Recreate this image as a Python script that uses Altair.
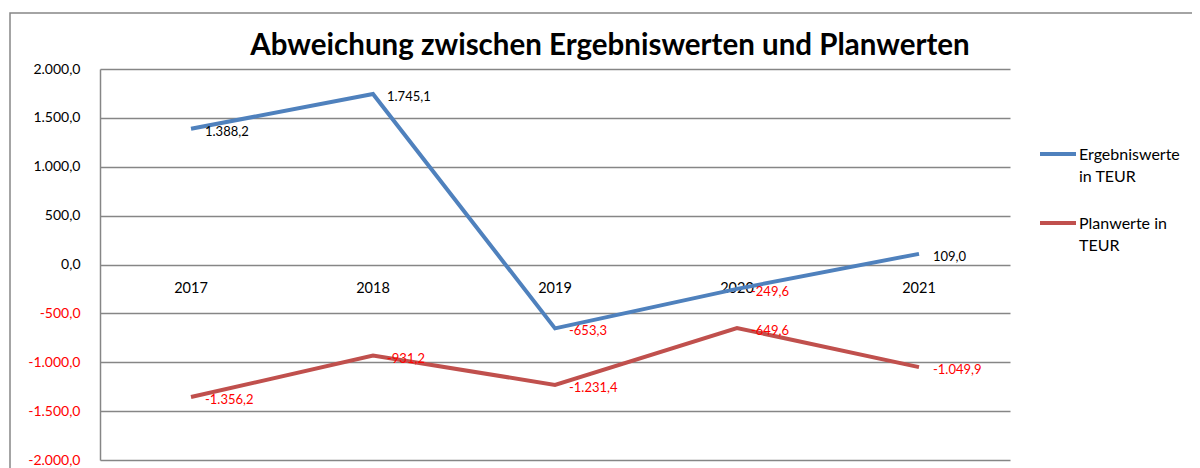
import altair as alt
import pandas as pd

years = ["2017", "2018", "2019", "2020", "2021"]
ergebnis = [1388.2, 1745.1, -653.3, -249.6, 109.0]
plan = [-1356.2, -931.2, -1231.4, -649.6, -1049.9]
series_names = ["Ergebniswerte in TEUR", "Planwerte in TEUR"]
legend_texts = ["Ergebniswerte|in TEUR", "Planwerte in|TEUR"]
series_colors = ["#4f81bd", "#c0504d"]
y_ticks = [-2000, -1500, -1000, -500, 0, 500, 1000, 1500, 2000]
title_text = "Abweichung zwischen Ergebniswerten und Planwerten"

rows = []
for i, y in enumerate(years):
    rows.append({"year": y, "series": series_names[0], "value": ergebnis[i]})
    rows.append({"year": y, "series": series_names[1], "value": plan[i]})
df = pd.DataFrame(rows)
cat_df = pd.DataFrame({"year": years, "zero": [0] * len(years)})
leg_df = pd.DataFrame({"series": series_names, "label": legend_texts,
                       "idx": list(range(len(series_names)))})

FONT = "Lato"

x_enc = alt.X("year:N", sort=years,
              scale=alt.Scale(paddingInner=0, paddingOuter=0, align=0.5),
              axis=None)
y_scale = alt.Scale(domain=[-2000, 2000], nice=False, zero=False)
y_axis = alt.Axis(values=y_ticks, format=",.1f", grid=True,
                  gridColor="#868686", gridWidth=1.5,
                  domain=True, domainColor="#868686", domainWidth=1.5,
                  ticks=False, labelPadding=20, labelFont=FONT,
                  labelFontSize=14,
                  labelColor={"condition": {"test": "datum.value < 0", "value": "#ff0000"},
                              "value": "#000000"})
color_scale = alt.Scale(domain=series_names, range=series_colors)

base = alt.Chart(df)

lines = base.mark_line(strokeWidth=4).encode(
    x=x_enc,
    y=alt.Y("value:Q", scale=y_scale, title=None, axis=y_axis),
    color=alt.Color("series:N", scale=color_scale, legend=None),
)

labels = base.mark_text(align="left", baseline="middle", dx=14, dy=3,
                        font=FONT, fontSize=13).encode(
    x=x_enc,
    y=alt.Y("value:Q", scale=y_scale, title=None, axis=y_axis),
    text=alt.Text("value:Q", format=",.1f"),
    color=alt.condition("datum.value < 0", alt.value("#ff0000"), alt.value("#000000")),
)

cats = alt.Chart(cat_df).mark_text(baseline="middle", dy=24, font=FONT,
                                   fontSize=14.5, color="#000000").encode(
    x=x_enc,
    y=alt.Y("zero:Q", scale=y_scale, title=None, axis=y_axis),
    text="year:N",
)

frame_df = pd.DataFrame({"t": [title_text]})
frame = alt.Chart(frame_df).mark_rect(fill="transparent", stroke="#868686",
                                      strokeWidth=1.5).encode(
    x=alt.value(-90), x2=alt.value(1110), y=alt.value(-56), y2=alt.value(420))
title = alt.Chart(frame_df).mark_text(font=FONT, fontSize=29.5, fontWeight="bold",
                                      align="center", baseline="alphabetic",
                                      color="#000000").encode(
    x=alt.value(510), y=alt.value(-14), text="t:N")

main = alt.layer(frame, cats, lines, labels, title)

leg_y = alt.Y("idx:Q", scale=alt.Scale(domain=[0, 1], range=[85, 154]), axis=None)
leg_rule = alt.Chart(leg_df).mark_rule(strokeWidth=4).encode(
    x=alt.value(940), x2=alt.value(976), y=leg_y,
    color=alt.Color("series:N", scale=color_scale, legend=None))
leg_text = alt.Chart(leg_df).mark_text(align="left", baseline="alphabetic", dy=6,
                                       lineBreak="|", lineHeight=22, font=FONT,
                                       fontSize=16, color="#000000").encode(
    x=alt.value(979), y=leg_y, text="label:N")

chart = alt.layer(main, leg_rule, leg_text).resolve_scale(y="independent").properties(
    width=910, height=391,
    padding={"left": 92, "top": 61, "right": 182, "bottom": 8},
    autosize=alt.AutoSizeParams(type="none"),
).configure(
    locale={"number": {"decimal": ",", "thousands": ".", "grouping": [3],
                       "currency": ["", " €"], "minus": "-"}}
).configure_view(stroke=None)

chart.save("out.html", embed_options={"renderer": "svg", "actions": False})
